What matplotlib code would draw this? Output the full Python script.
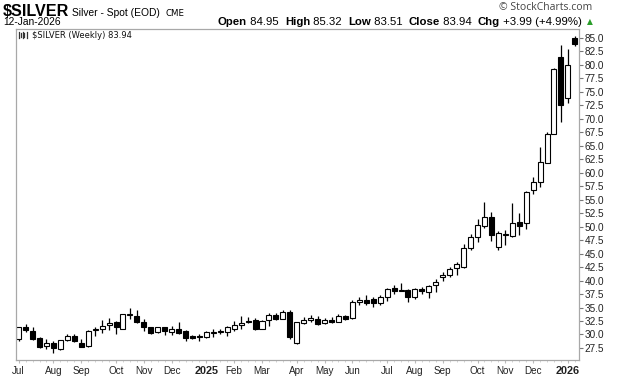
import matplotlib
matplotlib.use("Agg")
import matplotlib.pyplot as plt
import numpy as np
import pandas as pd

# ---- data (weekly OHLC) ----
opens = [29.1, 31.3, 30.7, 29.4, 27.9, 28.5, 27.25, 28.9, 29.8, 28.5,
         27.9, 30.8, 31.1, 31.7, 32.25, 31.1, 33.7, 33.5, 32.4, 31.3,
         30.4, 31.3, 30.5, 31.07, 30.6, 29.8, 29.7, 29.5, 30.2, 30.5,
         30.4, 30.95, 31.7, 32.5, 32.75, 31.1, 32.6, 33.7, 32.9, 34.1,
         28.5, 32.1, 32.6, 32.8, 32.07, 32.7, 32.4, 33.4, 33.0, 35.96,
         36.4, 36.5, 35.9, 36.9, 38.56, 38.1, 38.25, 37.0, 38.4, 37.8,
         39.1, 40.6, 41.0, 42.3, 42.45, 46.0, 48.16, 50.2, 51.87, 46.25,
         48.45, 48.35, 50.8, 50.64, 56.75, 58.36, 61.76, 67.2, 81.47, 73.8,
         84.95]
highs = [31.45, 31.9, 31.4, 29.5, 29.1, 28.85, 28.95, 30.0, 30.1, 29.2,
         30.9, 31.45, 32.6, 33.0, 32.5, 33.85, 34.85, 34.5, 32.9, 31.45,
         31.45, 31.45, 31.5, 32.25, 30.8, 29.9, 30.0, 30.7, 30.95, 31.1,
         31.5, 32.5, 33.4, 33.2, 33.0, 32.75, 34.0, 34.0, 34.5, 34.5,
         32.4, 33.2, 33.7, 33.5, 33.0, 33.25, 33.75, 33.7, 36.4, 36.9,
         37.3, 36.9, 37.3, 38.6, 39.2, 39.55, 38.4, 38.56, 38.8, 39.2,
         40.2, 41.5, 42.6, 43.5, 46.8, 48.6, 51.44, 54.6, 52.8, 49.28,
         49.4, 54.4, 52.55, 56.57, 59.3, 64.8, 67.5, 79.4, 83.7, 82.96,
         85.32]
lows = [28.85, 30.5, 28.9, 27.4, 27.25, 26.5, 27.1, 28.8, 28.6, 27.6,
        27.6, 29.8, 30.3, 30.8, 30.0, 30.95, 32.9, 32.1, 30.6, 30.1,
        30.3, 29.9, 29.95, 30.1, 28.7, 29.2, 28.8, 29.3, 29.5, 30.0,
        29.8, 30.6, 30.95, 32.2, 30.8, 30.95, 31.6, 32.7, 32.8, 29.1,
        28.3, 31.9, 32.4, 31.75, 31.9, 32.07, 32.25, 32.6, 32.9, 35.5,
        35.4, 35.16, 35.4, 36.15, 37.45, 38.05, 36.1, 36.6, 37.5, 36.8,
        37.9, 40.0, 40.6, 41.1, 42.3, 45.7, 47.2, 49.83, 47.4, 45.63,
        46.68, 48.04, 48.5, 49.6, 56.14, 57.4, 61.76, 67.1, 69.4, 72.88,
        83.51]
closes = [31.3, 30.9, 29.1, 27.7, 28.5, 27.4, 28.9, 29.8, 28.7, 27.7,
          30.6, 31.1, 31.6, 32.1, 31.3, 33.75, 33.75, 32.4, 31.3, 30.2,
          31.3, 30.6, 31.05, 30.2, 29.4, 29.4, 29.5, 30.5, 30.4, 30.65,
          31.3, 31.75, 32.2, 32.3, 31.0, 32.5, 33.7, 32.9, 34.1, 29.6,
          32.25, 32.6, 33.05, 31.9, 32.6, 32.25, 33.4, 32.9, 36.0, 36.4,
          35.9, 35.9, 36.9, 38.4, 38.1, 38.15, 37.0, 38.4, 38.0, 38.9,
          39.7, 41.0, 42.1, 43.07, 46.0, 48.04, 50.27, 51.87, 48.5, 48.84,
          48.6, 50.64, 50.1, 56.5, 58.24, 62.07, 67.1, 79.25, 72.6, 79.95,
          83.94]
weeks = pd.date_range("2024-07-01", periods=len(opens), freq="W-MON")
y_ticks = [27.5, 30.0, 32.5, 35.0, 37.5, 40.0, 42.5, 45.0, 47.5, 50.0,
           52.5, 55.0, 57.5, 60.0, 62.5, 65.0, 67.5, 70.0, 72.5, 75.0,
           77.5, 80.0, 82.5, 85.0]
month_names = ["Jan", "Feb", "Mar", "Apr", "May", "Jun", "Jul", "Aug",
               "Sep", "Oct", "Nov", "Dec"]

W, H = 620, 376
plt.rcParams['font.family'] = ['Liberation Sans', 'DejaVu Sans']
fig = plt.figure(figsize=(W / 100, H / 100), dpi=100)
fig.patch.set_facecolor('white')

L_, R_, T_, B_ = 15.7, 579.0, 29.0, 360.0
ax = fig.add_axes([L_ / W, 1 - B_ / H, (R_ - L_) / W, (B_ - T_) / H])

o = np.array(opens); h = np.array(highs); l = np.array(lows); c = np.array(closes)
x = np.arange(len(o))
up = c >= o
ax.vlines(x, l, h, color='black', lw=0.9, zorder=1)
body_h = np.maximum(np.abs(c - o), 0.06)
ax.bar(x, body_h, bottom=np.minimum(o, c), width=0.72,
       color=np.where(up, 'white', 'black'), edgecolor='black', lw=0.8, zorder=2)

ax.set_xlim(-0.43, 80.6)
ax.set_ylim(25.26, 86.67)

for s in ax.spines.values():
    s.set_color('#a8a8a8')
    s.set_linewidth(0.9)

ax.yaxis.tick_right()
ax.set_yticks(y_ticks)
ax.set_yticklabels([f"{v:.1f}" for v in y_ticks])
ax.tick_params(axis='y', length=3, width=0.8, color='#777777', pad=0.8,
               labelsize=7.2, labelcolor='#222222')

# month labels at first week whose Monday falls in a new month
tick_idx, tick_lab = [], []
prev = None
for i, d in enumerate(weeks):
    if prev is None or d.month != prev:
        tick_idx.append(i)
        tick_lab.append(str(d.year) if d.month == 1 else month_names[d.month - 1])
    prev = d.month
ax.set_xticks(tick_idx)
ax.set_xticklabels(tick_lab)
ax.set_xticks(x, minor=True)
ax.tick_params(axis='x', which='major', length=2, width=0.8, color='#bbbbbb',
               pad=2.5, labelsize=7.1, labelcolor='#222222')
ax.tick_params(axis='x', which='minor', length=1.5, width=0.6, color='#cccccc')
for t in ax.get_xticklabels():
    if t.get_text().isdigit():
        t.set_fontweight('bold')
        t.set_fontsize(7.8)


def fx(px):
    return px / W


def fy(py):
    return 1 - py / H


# header
fig.text(fx(3), fy(15.5), "$SILVER", fontsize=11.6, fontweight='bold', va='baseline')
fig.text(fx(71.5), fy(15.5), "Silver - Spot (EOD)", fontsize=7.4, va='baseline')
fig.text(fx(166), fy(15.5), "CME", fontsize=6.2, va='baseline', family='DejaVu Sans')
fig.text(fx(3), fy(25), "12-Jan-2026", fontsize=7.4, va='baseline')
fig.text(fx(592), fy(10), "\u00a9 StockCharts.com", fontsize=7.5, va='baseline',
         ha='right', color='#444444', family='Open Sans')

# OHLC line
renderer = fig.canvas.get_renderer()
parts = [("Open", True), (" 84.95  ", False), ("High", True), (" 85.32  ", False),
         ("Low", True), (" 83.51  ", False), ("Close", True), (" 83.94  ", False),
         ("Chg", True), (" +3.99 (+4.99%) ", False)]
cx = 218.0
for s, b in parts:
    t = fig.text(fx(cx), fy(25), s, fontsize=8.2, va='baseline',
                 fontweight='bold' if b else 'normal')
    bb = t.get_window_extent(renderer=renderer)
    cx += bb.width
fig.text(fx(cx + 1.5), fy(24.5), "\u25b2", fontsize=5.5, va='baseline', color='#2a9d2a',
         family='DejaVu Sans')

# legend line inside chart
fig.text(fx(31.5), fy(38.5), "$SILVER (Weekly) 83.94", fontsize=6.0, va='baseline',
         family='DejaVu Sans', color='#111111')
# small icon
for dxp, y0, y1 in [(18.5, 31.5, 37.5), (20.5, 32.5, 36.5), (22.5, 31.5, 37.5),
                     (24.5, 32.5, 36.5), (26.5, 31.5, 37.5)]:
    fig.add_artist(plt.Line2D([fx(dxp), fx(dxp)], [fy(y0), fy(y1)],
                              color='#333333', lw=0.9))

fig.savefig("out.png", dpi=100, facecolor='white')
